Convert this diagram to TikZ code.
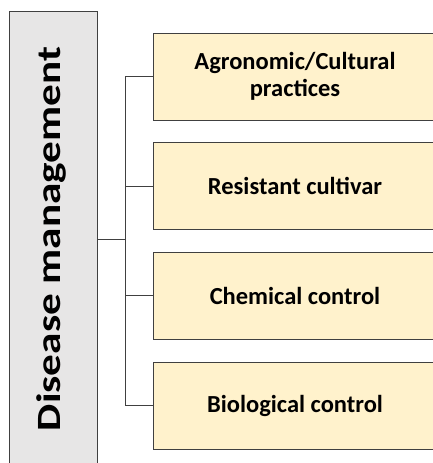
\documentclass[tikz,border=0pt]{standalone}
\usepackage{fontspec}
\setmainfont{Carlito}
\usetikzlibrary{positioning}

\definecolor{boxyellow}{HTML}{FFF2CC}
\definecolor{boxgray}{HTML}{E7E6E6}
\definecolor{edgegray}{HTML}{404040}

\tikzset{
  mainbox/.style={draw=edgegray, fill=boxgray, line width=1pt,
    minimum width=88pt, minimum height=456pt},
  catbox/.style={draw=edgegray, fill=boxyellow, line width=1pt,
    minimum width=284pt, minimum height=87pt, align=center,
    font=\fontsize{24.5}{27}\selectfont\bfseries},
  link/.style={draw=edgegray, line width=0.9pt},
}

\begin{document}
\begin{tikzpicture}[x=1pt, y=-1pt]
  \useasboundingbox (0,0) rectangle (433,463);
  \clip (0,0) rectangle (433,463);

  % 左侧主框
  \node[mainbox] (dm) at (53,239) {};
  \node[rotate=90, font=\fontsize{34}{40}\selectfont\bfseries] (dmtext) at (51,239)
    {\scalebox{1.27}[1]{Disease management}};

  % 右侧四个分类框
  \node[catbox] (agro) at (295,76.5) {Agronomic/Cultural\\practices};
  \node[catbox, below=21.7pt of agro] (resist) {Resistant cultivar};
  \node[catbox, below=21.7pt of resist] (chem) {Chemical control};
  \node[catbox, below=21.7pt of chem] (bio) {Biological control};

  % 连线
  \coordinate (hub) at (125,239.5);
  \draw[link] (dm.east |- hub) -- (hub);
  \draw[link] (hub) |- (agro.west);
  \draw[link] (hub) |- (resist.west);
  \draw[link] (hub) |- (chem.west);
  \draw[link] (hub) |- (bio.west);
\end{tikzpicture}
\end{document}
